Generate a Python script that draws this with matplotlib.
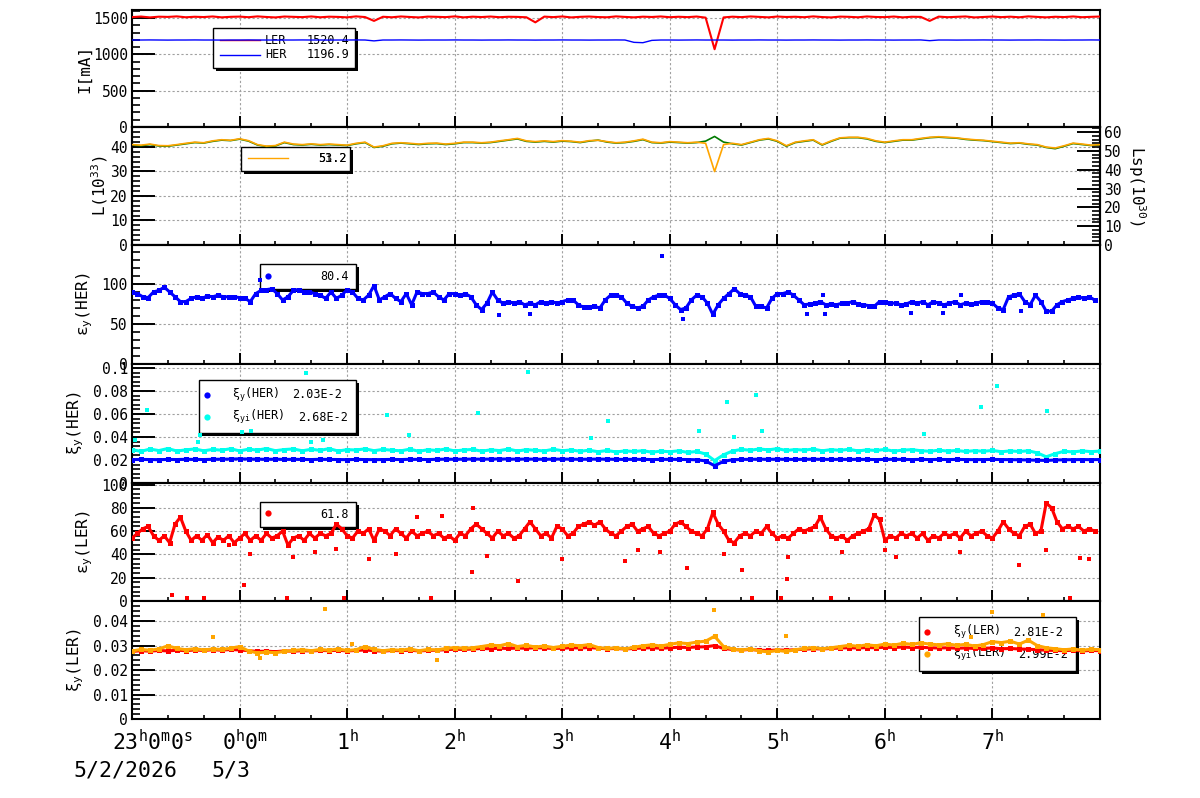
import numpy as np
import matplotlib
matplotlib.use('Agg')
import matplotlib.pyplot as plt
import matplotlib.transforms as mtransforms
from matplotlib.ticker import MultipleLocator, AutoMinorLocator, FuncFormatter
from matplotlib.patches import Rectangle

plt.rcParams['font.family'] = ['DejaVu Sans Mono', 'DejaVu Sans']
plt.rcParams['mathtext.default'] = 'regular'

# ---------------- data (time in hours since 23:00, 5/2/2026) ----------------
step5 = 5 / 60.0   # 5-minute samples
step3 = 3 / 60.0   # 3-minute samples

cur_ler = [1512,1520,1508,1518,1515,1522,1510,1517,1513,1521,1509,1516,1519,1511,1522,1514,1508,1520,1516,1512,
           1521,1510,1518,1515,1509,1522,1513,1460,
           1517,1510,1521,1514,1508,1519,1516,1512,1522,1509,1518,1513,1520,1511,1517,1515,1510,1440,
           1519,1512,1521,1508,1516,1520,1513,1510,1522,1515,1509,1518,1514,1521,1511,1517,1512,1520,1505,1070,
           1508,1518,1512,1521,1515,1509,1520,1514,1517,1511,1522,1513,1508,1519,1516,1510,1521,1514,1512,1520,
           1509,1517,1515,1460,
           1519,1511,1516,1521,1508,1514,1520,1512,1518,1510,1522,1515,1509,1517,1513,1521,1511,1516,1520]

cur_her = [1197,1197,1198,1197,1196,1197,1197,1198,1197,1197,
           1196,1197,1197,1198,1197,1197,1196,1197,1197,1198,
           1197,1197,1196,1197,1197,1198,1197,1185,1197,1197,
           1198,1197,1196,1197,1197,1197,1198,1197,1197,1196,
           1197,1197,1198,1197,1197,1196,1197,1197,1198,1197,
           1197,1196,1197,1197,1198,1197,1165,1160,1192,1197,
           1197,1196,1197,1198,1197,1197,1197,1196,1197,1197,
           1198,1197,1197,1196,1197,1197,1198,1197,1197,1196,
           1197,1197,1198,1197,1197,1196,1197,1197,1198,1188,
           1197,1197,1196,1197,1197,1198,1197,1197,1196,1197,
           1197,1198,1197,1197,1196,1197,1197,1198,1197]

lum_l = [40.8,40.5,41.0,40.4,40.3,40.8,41.3,41.8,41.6,42.3,
         42.8,42.6,43.2,42.4,40.8,40.2,40.4,41.8,41.0,40.8,
         41.1,40.8,41.0,40.8,40.6,41.3,41.8,39.8,40.3,41.3,
         41.6,41.3,41.0,41.3,41.4,41.0,41.3,41.8,41.8,41.6,
         41.8,42.3,42.8,43.3,42.3,42.0,42.3,42.0,42.4,42.2,
         41.8,42.4,42.8,42.0,41.6,41.8,42.3,43.0,41.8,41.6,
         42.0,41.8,41.6,41.8,42.4,44.3,42.0,41.3,40.8,41.8,
         42.8,43.3,42.3,40.3,41.8,42.3,42.8,40.8,42.3,43.6,
         43.8,43.8,43.3,42.3,41.8,42.3,42.8,42.8,43.3,43.8,
         44.0,43.8,43.6,43.1,42.8,42.6,42.2,41.8,41.4,41.6,
         41.1,40.8,39.8,39.3,40.3,41.4,41.0,40.6,40.8]

lum_sp = [53.3,53.0,53.6,52.8,52.7,53.3,54.0,54.6,54.3,55.3,
          55.9,55.6,56.4,55.4,53.3,52.5,52.8,54.6,53.6,53.3,
          53.7,53.3,53.6,53.3,53.0,54.0,54.6,52.0,52.7,54.0,
          54.3,54.0,53.6,54.0,54.1,53.6,54.0,54.6,54.6,54.3,
          54.6,55.3,55.9,56.6,55.3,54.9,55.3,54.9,55.4,55.1,
          54.6,55.4,55.6,54.9,54.3,54.6,55.3,56.2,54.6,54.3,
          54.9,54.6,54.3,54.6,54.0,39.0,53.3,54.0,53.3,54.6,
          55.9,56.6,55.3,52.7,54.6,55.3,55.9,53.3,55.3,56.9,
          57.2,57.2,56.6,55.3,54.6,55.3,55.9,55.9,56.6,57.2,
          57.5,57.2,56.9,56.3,55.9,55.6,55.1,54.6,54.1,54.3,
          53.7,53.3,52.0,51.5,52.7,54.1,53.6,53.0,53.3]

emit_her = [90,88,84,83,90,92,96,90,84,78,
            78,82,84,82,85,84,86,84,84,84,
            83,82,78,88,92,93,94,88,80,84,
            92,93,90,90,88,86,82,90,82,86,
            93,90,82,80,86,98,80,84,88,82,
            78,88,74,90,88,88,90,84,80,88,
            88,86,88,84,74,68,76,90,80,76,
            78,76,78,74,76,74,78,76,78,76,
            78,80,80,74,71,71,72,70,80,86,
            86,84,76,72,70,72,80,84,86,86,
            82,74,68,70,80,86,84,76,62,74,
            82,88,94,88,86,84,72,72,70,82,
            88,88,90,86,80,74,75,76,78,74,
            75,74,76,76,78,75,74,73,72,78,
            78,76,76,74,75,78,76,78,74,78,
            76,74,76,78,74,76,75,76,78,78,
            76,70,68,84,86,88,78,74,86,78,
            66,66,74,78,80,82,84,82,84,80]
emit_her_out_t = [1.19, 3.41, 3.70, 4.93, 5.12, 6.28, 6.42, 6.44, 7.24, 7.54, 7.71, 8.27]
emit_her_out_v = [105, 61, 63, 135, 56.5, 63, 86.6, 62, 64, 64, 86.6, 66]

xi_her = [0.0203,0.0205,0.0204,0.0203,0.0205,0.0204,0.0206,0.0205,0.0204,0.0206,
          0.0207,0.0208,0.0210,0.0208,0.0207,0.0206,0.0207,0.0205,0.0206,0.0205,
          0.0204,0.0206,0.0205,0.0204,0.0203,0.0205,0.0204,0.0203,0.0204,0.0205,
          0.0204,0.0206,0.0205,0.0204,0.0206,0.0207,0.0206,0.0207,0.0208,0.0207,
          0.0208,0.0209,0.0208,0.0207,0.0208,0.0207,0.0206,0.0207,0.0208,0.0207,
          0.0206,0.0207,0.0208,0.0207,0.0206,0.0205,0.0206,0.0205,0.0204,0.0205,
          0.0206,0.0205,0.0204,0.0202,0.0192,0.0150,0.0188,0.0202,0.0205,0.0206,
          0.0207,0.0206,0.0207,0.0206,0.0205,0.0206,0.0207,0.0206,0.0205,0.0206,
          0.0205,0.0206,0.0205,0.0204,0.0205,0.0206,0.0205,0.0204,0.0205,0.0204,
          0.0205,0.0204,0.0205,0.0204,0.0203,0.0204,0.0205,0.0204,0.0203,0.0202,
          0.0200,0.0198,0.0196,0.0200,0.0202,0.0203,0.0204,0.0203,0.0204]

xi_her_i = [0.0290,0.0275,0.0295,0.0282,0.0300,0.0278,0.0288,0.0296,0.0280,0.0292,
            0.0285,0.0298,0.0279,0.0294,0.0286,0.0300,0.0281,0.0291,0.0296,0.0280,
            0.0293,0.0284,0.0299,0.0278,0.0290,0.0287,0.0297,0.0281,0.0292,0.0285,
            0.0280,0.0294,0.0276,0.0289,0.0283,0.0296,0.0279,0.0287,0.0292,0.0277,
            0.0288,0.0282,0.0295,0.0278,0.0290,0.0284,0.0279,0.0293,0.0281,0.0287,
            0.0276,0.0285,0.0272,0.0283,0.0270,0.0279,0.0274,0.0281,0.0268,0.0277,
            0.0272,0.0280,0.0266,0.0274,0.0252,0.0195,0.0245,0.0278,0.0292,0.0285,
            0.0296,0.0288,0.0299,0.0283,0.0291,0.0286,0.0295,0.0280,0.0290,0.0284,
            0.0293,0.0279,0.0288,0.0283,0.0292,0.0277,0.0286,0.0290,0.0281,0.0276,
            0.0285,0.0278,0.0283,0.0274,0.0281,0.0276,0.0283,0.0272,0.0279,0.0274,
            0.0280,0.0262,0.0228,0.0255,0.0276,0.0270,0.0279,0.0273,0.0277]
xi_her_i_out_t = [0.03,0.14,0.61,0.63,1.02,1.11,1.62,1.66,1.78,2.37,2.58,3.22,
                  3.68,4.27,4.43,5.27,5.53,5.60,5.80,5.86,7.36,7.89,8.04,8.51]
xi_her_i_out_v = [0.0374,0.0635,0.0357,0.0417,0.0443,0.0452,0.0957,0.0360,0.0374,0.0591,0.0420,0.0609,
                  0.0965,0.0390,0.0539,0.0450,0.0704,0.0400,0.0765,0.0452,0.0430,0.0661,0.0843,0.0626]

emit_ler = [54,58,62,64,56,52,56,50,66,72,
            60,52,56,52,57,50,55,52,56,50,
            54,58,52,56,52,58,54,56,60,48,
            54,56,52,58,54,58,56,58,66,62,
            56,54,60,58,62,52,62,60,56,62,
            58,54,60,56,58,60,56,58,54,56,
            52,58,56,62,66,62,58,54,60,56,
            58,54,56,62,68,62,56,58,54,64,
            62,56,58,64,66,68,65,68,62,58,
            56,60,64,66,60,62,64,58,56,58,
            60,66,68,64,60,58,56,62,76,66,
            60,52,50,56,58,56,60,58,64,58,
            54,56,54,58,62,60,62,64,72,62,
            56,54,56,52,56,58,60,62,74,70,
            52,56,54,58,56,58,54,58,52,56,
            54,58,56,58,54,60,56,58,60,56,
            54,60,68,62,58,56,64,66,58,60,
            84,80,68,62,64,62,64,60,62,60]
emit_ler_out_t = [0.37,0.51,0.67,0.90,1.04,1.10,1.44,1.50,1.70,1.90,1.97,2.20,2.45,2.65,2.78,2.88,
                  3.16,3.17,3.30,3.59,4.00,4.58,4.70,4.91,5.16,5.50,5.67,5.76,6.03,6.09,6.10,6.50,
                  6.60,7.00,7.10,7.70,8.25,8.50,8.72,8.81,8.90]
emit_ler_out_v = [5,3,3,48,14,40,3,38,42,45,3,36,40,72,3,73,
                  25,80,39,17,36,34,44,42,28,40,27,3,3,19,38,3,
                  42,44,38,42,31,44,3,37,36]

xi_ler = [0.0276,0.0279,0.0277,0.0280,0.0278,0.0281,0.0279,0.0282,0.0280,0.0283,
          0.0281,0.0284,0.0282,0.0279,0.0276,0.0277,0.0275,0.0278,0.0277,0.0279,
          0.0278,0.0280,0.0279,0.0281,0.0278,0.0280,0.0282,0.0279,0.0277,0.0280,
          0.0279,0.0281,0.0278,0.0280,0.0281,0.0283,0.0285,0.0284,0.0286,0.0288,
          0.0287,0.0289,0.0288,0.0290,0.0289,0.0291,0.0290,0.0288,0.0289,0.0291,
          0.0290,0.0292,0.0289,0.0287,0.0288,0.0286,0.0288,0.0290,0.0291,0.0289,
          0.0291,0.0293,0.0292,0.0294,0.0295,0.0300,0.0288,0.0284,0.0282,0.0284,
          0.0281,0.0280,0.0282,0.0281,0.0283,0.0285,0.0287,0.0286,0.0288,0.0290,
          0.0291,0.0290,0.0292,0.0291,0.0293,0.0292,0.0294,0.0292,0.0293,0.0291,
          0.0290,0.0291,0.0289,0.0290,0.0288,0.0289,0.0290,0.0287,0.0288,0.0286,
          0.0285,0.0283,0.0281,0.0280,0.0279,0.0281,0.0278,0.0280,0.0279]

xi_ler_i = [0.0278,0.0284,0.0281,0.0286,0.0299,0.0288,0.0283,0.0287,0.0282,0.0286,
            0.0284,0.0289,0.0296,0.0278,0.0270,0.0273,0.0271,0.0276,0.0280,0.0283,
            0.0279,0.0284,0.0281,0.0286,0.0280,0.0283,0.0296,0.0284,0.0279,0.0283,
            0.0281,0.0286,0.0279,0.0284,0.0282,0.0288,0.0292,0.0289,0.0291,0.0296,
            0.0302,0.0299,0.0308,0.0296,0.0301,0.0294,0.0298,0.0292,0.0297,0.0302,
            0.0299,0.0304,0.0292,0.0288,0.0291,0.0286,0.0293,0.0299,0.0303,0.0298,
            0.0305,0.0311,0.0308,0.0314,0.0318,0.0338,0.0296,0.0286,0.0281,0.0287,
            0.0278,0.0274,0.0280,0.0276,0.0283,0.0288,0.0292,0.0287,0.0291,0.0296,
            0.0301,0.0297,0.0303,0.0299,0.0306,0.0302,0.0309,0.0305,0.0311,0.0306,
            0.0303,0.0307,0.0301,0.0305,0.0298,0.0304,0.0316,0.0312,0.0318,0.0306,
            0.0322,0.0300,0.0291,0.0287,0.0283,0.0286,0.0281,0.0285,0.0283]
xi_ler_i_out_t = [0.75, 1.19, 1.79, 2.05, 2.84, 5.41, 6.08, 7.80, 8.00, 8.47]
xi_ler_i_out_v = [0.0335, 0.0249, 0.0449, 0.0306, 0.0241, 0.0445, 0.0339, 0.0335, 0.0437, 0.0424]

hour_labels = [r'23$^h$0$^m$0$^s$', r'0$^h$0$^m$', r'1$^h$', r'2$^h$', r'3$^h$',
               r'4$^h$', r'5$^h$', r'6$^h$', r'7$^h$']
date_labels = ['5/2/2026', '5/3']

# ---------------- figure ----------------
W, H = 1200, 798
fig = plt.figure(figsize=(W / 100, H / 100), dpi=100)
XL, XR = 132, 1100
edges = [10, 127, 245, 364, 483, 601, 719]
ylims = [(0, 1610), (0, 48.16), (0, 148.75), (0, 0.1035), (0, 101.3), (0, 0.0482)]
majors = [500, 10, 50, 0.02, 20, 0.01]
ylabels = ['I[mA]', 'L(10$^{33}$)', 'ε$_y$(HER)', 'ξ$_y$(HER)', 'ε$_y$(LER)', 'ξ$_y$(LER)']
label_px = [92, 110, 95, 86, 95, 86]   # right edge of each rotated y label

RED, BLUE, CYAN, ORANGE, GREEN = '#ff0000', '#0000ff', '#00ffee', '#ffa500', '#007a00'
GRID = dict(color='#a0a0a0', linestyle=(0, (2, 2)), linewidth=0.8)
fmt = FuncFormatter(lambda v, p: '%g' % v)


def fx(x):
    return x / W


def fy(y):
    return 1 - y / H


axes = []
for k in range(6):
    top, bot = edges[k], edges[k + 1]
    ax = fig.add_axes([fx(XL), fy(bot), (XR - XL) / W, (bot - top) / H])
    ax.set_xlim(0, 9)
    ax.set_ylim(*ylims[k])
    ax.xaxis.set_major_locator(MultipleLocator(1))
    ax.xaxis.set_minor_locator(MultipleLocator(1 / 3))
    ax.yaxis.set_major_locator(MultipleLocator(majors[k]))
    ax.yaxis.set_minor_locator(AutoMinorLocator(5))
    ax.yaxis.set_major_formatter(fmt)
    ax.tick_params(axis='x', which='major', direction='in', length=8, width=1.4, labelbottom=False)
    ax.tick_params(axis='x', which='minor', direction='in', length=3, width=1.2)
    ax.tick_params(axis='y', which='major', direction='in', length=16.5, width=1.4,
                   labelsize=10.5, pad=3)
    ax.tick_params(axis='y', which='minor', direction='in', length=5.8, width=1.2)
    for s in ax.spines.values():
        s.set_linewidth(1.5)
    ax.grid(True, which='major', **GRID)
    ax.set_axisbelow(True)
    ax.set_ylabel(ylabels[k], fontsize=11.5)
    ax.yaxis.set_label_coords((label_px[k] - XL) / (XR - XL), 0.5)
    axes.append(ax)


def legend_box(ax, x0, y0, x1, y1):
    ax.add_patch(Rectangle((fx(x0 + 3), fy(y1 + 3)), (x1 - x0) / W, (y1 - y0) / H,
                           transform=fig.transFigure, fc='black', ec='none', zorder=1.8))
    ax.add_patch(Rectangle((fx(x0), fy(y1)), (x1 - x0) / W, (y1 - y0) / H,
                           transform=fig.transFigure, fc='white', ec='black', lw=1.0, zorder=1.9))


def legend_text(ax, x, y, s, ha='left'):
    ax.text(fx(x), fy(y), s, transform=fig.transFigure, ha=ha, va='center',
            fontsize=8.5, zorder=2)


def legend_line(ax, x0, x1, y, color):
    ax.plot([fx(x0), fx(x1)], [fy(y), fy(y)], transform=fig.transFigure, color=color, lw=1.0, zorder=2)


def legend_dot(ax, x, y, color):
    ax.plot([fx(x)], [fy(y)], 'o', transform=fig.transFigure, color=color, ms=4.5, mew=0, zorder=2)


def t_axis(vals, step):
    return np.arange(len(vals)) * step


def band(ax, t, v, color, ms=3.6, lw=2.2, z=3):
    ax.plot(t, v, color=color, lw=lw, marker='s', ms=ms, mew=0, zorder=z)


def pts(ax, t, v, color, ms=3.0, z=3):
    ax.plot(t, v, ls='none', color=color, marker='s', ms=ms, mew=0, zorder=z)


# Panel 1: beam currents
ax = axes[0]
ax.plot(t_axis(cur_ler, step5), cur_ler, color=RED, lw=1.5, zorder=3)
ax.plot(t_axis(cur_her, step5), cur_her, color=BLUE, lw=1.0, zorder=3)
legend_box(ax, 213, 28, 355, 68)
legend_line(ax, 220, 260, 40, RED)
legend_text(ax, 265, 40, 'LER')
legend_text(ax, 349, 40, '1520.4', ha='right')
legend_line(ax, 220, 260, 55, BLUE)
legend_text(ax, 265, 55, 'HER')
legend_text(ax, 349, 55, '1196.9', ha='right')

# Panel 2: luminosity
ax = axes[1]
ax.plot(t_axis(lum_l, step5), lum_l, color=GREEN, lw=1.2, zorder=3)
legend_box(ax, 241, 147, 350, 171)
legend_line(ax, 248, 288, 158, ORANGE)
legend_text(ax, 347, 159, '51.2', ha='right')
legend_text(ax, 347, 159, '53.2', ha='right')
ax2 = ax.twinx()
ax2.set_ylim(0, 62.66)
ax2.plot(t_axis(lum_sp, step5), lum_sp, color=ORANGE, lw=1.2, zorder=3)
ax2.yaxis.set_major_locator(MultipleLocator(10))
ax2.yaxis.set_minor_locator(AutoMinorLocator(5))
ax2.yaxis.set_major_formatter(fmt)
ax2.tick_params(axis='y', which='major', direction='in', length=16.5, width=1.4, labelsize=10.5, pad=3)
ax2.tick_params(axis='y', which='minor', direction='in', length=5.8, width=1.2)
for s in ax2.spines.values():
    s.set_linewidth(1.5)
ax2.set_ylabel('Lsp(10$^{30}$)', fontsize=11.5, rotation=270, va='center')
ax2.yaxis.set_label_coords((1137 - XL) / (XR - XL), 0.5)

# Panel 3: emittance HER
ax = axes[2]
band(ax, t_axis(emit_her, step3), emit_her, BLUE)
pts(ax, emit_her_out_t, emit_her_out_v, BLUE)
legend_box(ax, 260, 264, 356, 289)
legend_dot(ax, 268, 276, BLUE)
legend_text(ax, 349, 277, '80.4', ha='right')

# Panel 4: beam-beam HER
ax = axes[3]
band(ax, t_axis(xi_her_i, step5), xi_her_i, CYAN, z=3)
pts(ax, xi_her_i_out_t, xi_her_i_out_v, CYAN)
band(ax, t_axis(xi_her, step5), xi_her, BLUE, z=3.5)
legend_box(ax, 199, 380, 356, 433)
legend_dot(ax, 207, 395, BLUE)
legend_text(ax, 232, 395, 'ξ$_y$(HER)')
legend_text(ax, 342, 395, '2.03E-2', ha='right')
legend_dot(ax, 207, 417, CYAN)
legend_text(ax, 232, 417, 'ξ$_{yi}$(HER)')
legend_text(ax, 348, 417, '2.68E-2', ha='right')

# Panel 5: emittance LER
ax = axes[4]
band(ax, t_axis(emit_ler, step3), emit_ler, RED)
pts(ax, emit_ler_out_t, emit_ler_out_v, RED)
legend_box(ax, 260, 502, 356, 527)
legend_dot(ax, 268, 513, RED)
legend_text(ax, 349, 514, '61.8', ha='right')

# Panel 6: beam-beam LER
ax = axes[5]
band(ax, t_axis(xi_ler, step5), xi_ler, RED, z=3)
band(ax, t_axis(xi_ler_i, step5), xi_ler_i, ORANGE, z=3.5)
pts(ax, xi_ler_i_out_t, xi_ler_i_out_v, ORANGE, z=3.5)
legend_box(ax, 919, 617, 1076, 671)
legend_dot(ax, 927, 632, RED)
legend_text(ax, 953, 632, 'ξ$_y$(LER)')
legend_text(ax, 1063, 632, '2.81E-2', ha='right')
legend_dot(ax, 927, 654, ORANGE)
legend_text(ax, 953, 654, 'ξ$_{yi}$(LER)')
legend_text(ax, 1068, 654, '2.99E-2', ha='right')

# time axis labels
axb = axes[-1]
trans = mtransforms.blended_transform_factory(axb.transData, fig.transFigure)
label_dx = [21, 6, 0, 0, 0, 0, 0, 0, 0]
for h, (s, dx) in enumerate(zip(hour_labels, label_dx)):
    tr = trans + mtransforms.ScaledTranslation(dx / 100, 0, fig.dpi_scale_trans)
    axb.text(h, fy(750), s, transform=tr, ha='center', va='baseline', fontsize=15.5, clip_on=False)
fig.text(fx(125), fy(777), date_labels[0], ha='center', va='baseline', fontsize=15.5)
fig.text(fx(231), fy(777), date_labels[1], ha='center', va='baseline', fontsize=15.5)

fig.savefig('out.png', dpi=100)
